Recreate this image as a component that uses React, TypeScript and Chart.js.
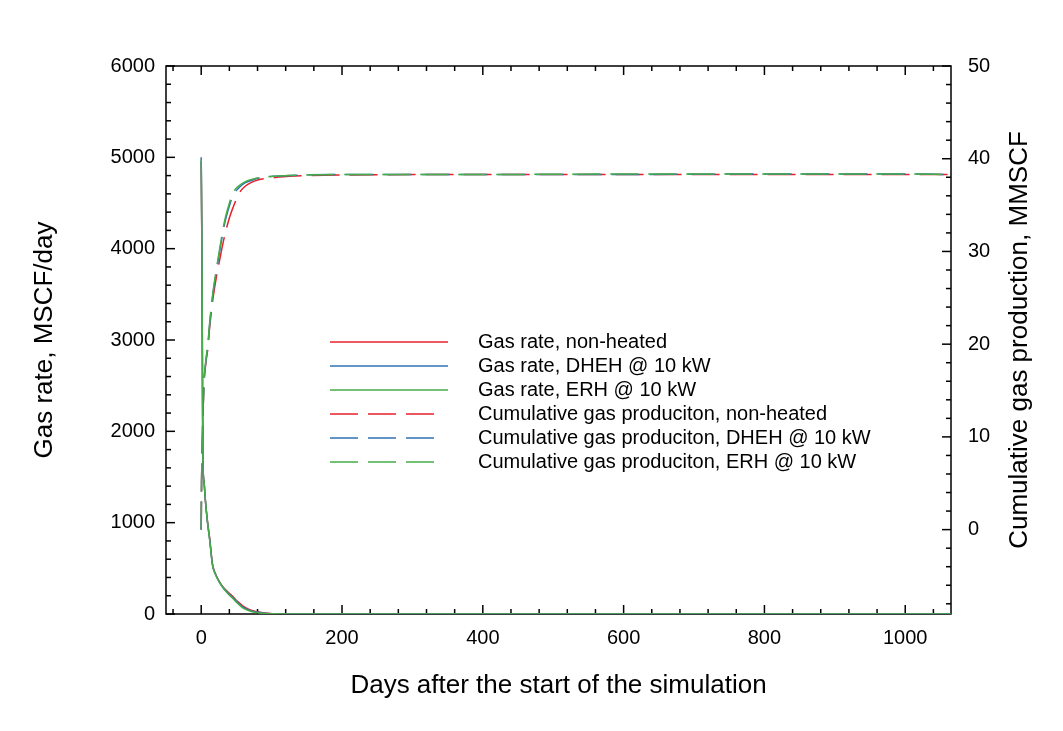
import React, { useEffect, useRef } from 'react';
import { Chart, registerables } from 'chart.js';

Chart.register(...registerables);

// ---------- data ----------
const rateDays = [0, 1, 2, 2.5, 4, 6, 9, 12, 16, 20, 25, 31, 38, 45, 52, 59, 68, 78, 90, 101, 115, 130, 200, 400, 600, 800, 1000, 1065];
const rateNonHeated = [4950, 4000, 2200, 1650, 1450, 1240, 1010, 830, 550, 445, 365, 295, 240, 190, 135, 90, 50, 27, 11, 4, 1, 0, 0, 0, 0, 0, 0, 0];
const rateDHEH = [5000, 4000, 2200, 1650, 1450, 1240, 1000, 820, 540, 440, 360, 290, 230, 180, 125, 78, 42, 21, 8, 3, 1, 0, 0, 0, 0, 0, 0, 0];
const rateERH = [4980, 4000, 2200, 1650, 1450, 1240, 1000, 815, 535, 438, 358, 288, 222, 170, 115, 68, 35, 16, 6, 2, 0.5, 0, 0, 0, 0, 0, 0, 0];

const cumDays = [0, 0.5, 1, 2, 3.7, 7, 9.4, 12, 16.5, 21, 26, 33, 40, 45, 54, 62, 73, 78, 90, 102, 125, 200, 400, 600, 800, 1000, 1065];
const cumNonHeated = [0, 5, 7.5, 11, 15.3, 18.2, 19.5, 21.8, 24.8, 27.0, 29.0, 31.6, 33.6, 34.7, 36.3, 37.0, 37.5, 37.65, 37.85, 37.95, 38.1, 38.25, 38.3, 38.3, 38.3, 38.3, 38.3];
const cumDHEH = [0, 5, 7.5, 11, 15.4, 18.4, 19.7, 22.1, 25.3, 27.6, 29.9, 32.9, 34.9, 36.0, 36.9, 37.4, 37.7, 37.85, 38.0, 38.1, 38.2, 38.3, 38.3, 38.3, 38.35, 38.35, 38.3];
const cumERH = [0, 5, 7.5, 11, 15.5, 18.5, 20.0, 22.3, 25.5, 27.8, 30.2, 33.2, 35.2, 36.3, 37.1, 37.5, 37.8, 37.9, 38.05, 38.1, 38.2, 38.3, 38.3, 38.35, 38.35, 38.35, 38.3];

const seriesLabels = [
  'Gas rate, non-heated',
  'Gas rate, DHEH @ 10 kW',
  'Gas rate, ERH @ 10 kW',
  'Cumulative gas produciton, non-heated',
  'Cumulative gas produciton, DHEH @ 10 kW',
  'Cumulative gas produciton, ERH @ 10 kW',
];

const xTickValues = [0, 200, 400, 600, 800, 1000];
const yTickValues = [0, 1000, 2000, 3000, 4000, 5000, 6000];
const y2TickValues = [0, 10, 20, 30, 40, 50];
const xMinorStep = 40;
const yMinorStep = 200;
const y2MinorStep = 2;

const xTitle = 'Days after the start of the simulation';
const yTitle = 'Gas rate, MSCF/day';
const y2Title = 'Cumulative gas production, MMSCF';

// ---------- styles ----------
const RED = '#e8212b';
const BLUE = '#2f72b6';
const GREEN = '#46ad48';
const FONT = '"Liberation Sans", Arial, sans-serif';
const DASH = [28, 10];

function minorValues(min: number, max: number, step: number) {
  const out: number[] = [];
  const start = Math.ceil(min / step) * step;
  for (let v = start; v <= max + 1e-9; v += step) out.push(Math.round(v * 1000) / 1000);
  return out;
}

const framePlugin = {
  id: 'frameTicks',
  beforeDatasetsDraw(chart: any) {
    const { ctx, chartArea, scales } = chart;
    const { left, right, top, bottom } = chartArea;
    const sx = scales.x, sy = scales.y, sy2 = scales.y2;
    ctx.save();
    ctx.strokeStyle = '#000';
    ctx.lineWidth = 1.5;
    const seg = (x1: number, y1: number, x2: number, y2: number) => {
      ctx.beginPath();
      ctx.moveTo(x1, y1);
      ctx.lineTo(x2, y2);
      ctx.stroke();
    };
    const MAJ = 9, MIN = 5;
    minorValues(sx.min, sx.max, xMinorStep).forEach((v) => {
      const p = sx.getPixelForValue(v);
      const len = xTickValues.includes(v) ? MAJ : MIN;
      seg(p, bottom, p, bottom - len);
      seg(p, top, p, top + len);
    });
    minorValues(sy.min, sy.max, yMinorStep).forEach((v) => {
      const p = sy.getPixelForValue(v);
      const len = yTickValues.includes(v) ? MAJ : MIN;
      seg(left, p, left + len, p);
    });
    minorValues(sy2.min, sy2.max, y2MinorStep).forEach((v) => {
      const p = sy2.getPixelForValue(v);
      const len = y2TickValues.includes(v) ? MAJ : MIN;
      seg(right, p, right - len, p);
    });
    ctx.strokeRect(left, top, right - left, bottom - top);
    ctx.restore();
  },
  afterDatasetsDraw(chart: any) {
    const { ctx } = chart;
    ctx.save();
    const x0 = 330;
    const textX = 478;
    const rowY0 = 342;
    const rowH = 24;
    chart.data.datasets.forEach((ds: any, i: number) => {
      const y = rowY0 + rowH * i;
      ctx.strokeStyle = ds.borderColor;
      ctx.lineWidth = 1.5;
      const dashed = Array.isArray(ds.borderDash) && ds.borderDash.length > 0;
      ctx.setLineDash(dashed ? ds.borderDash : []);
      ctx.beginPath();
      ctx.moveTo(x0, y);
      ctx.lineTo(dashed ? x0 + 107 : x0 + 118, y);
      ctx.stroke();
      ctx.setLineDash([]);
      ctx.fillStyle = '#000';
      ctx.font = `20px ${FONT}`;
      ctx.textAlign = 'left';
      ctx.textBaseline = 'middle';
      ctx.fillText(ds.label, textX, y);
    });
    const { chartArea } = chart;
    ctx.translate(1020, (chartArea.top + chartArea.bottom) / 2);
    ctx.rotate(-Math.PI / 2);
    ctx.fillStyle = '#000';
    ctx.font = `26px ${FONT}`;
    ctx.textAlign = 'center';
    ctx.textBaseline = 'middle';
    ctx.fillText(y2Title, 0, 0);
    ctx.restore();
  },
};

function pts(xs: number[], ys: number[]) {
  return xs.map((x, i) => ({ x, y: ys[i] }));
}

const plainLabel = (v: any) => String(v);

export default function App() {
  const ref = useRef<HTMLCanvasElement>(null);
  useEffect(() => {
    if (!ref.current) return;
    const common = {
      pointRadius: 0,
      borderWidth: 1.5,
      fill: false,
      cubicInterpolationMode: 'monotone' as const,
    };
    const chart = new Chart(ref.current, {
      type: 'line',
      data: {
        datasets: [
          { ...common, label: seriesLabels[0], data: pts(rateDays, rateNonHeated), borderColor: RED, yAxisID: 'y', order: 3 },
          { ...common, label: seriesLabels[1], data: pts(rateDays, rateDHEH), borderColor: BLUE, yAxisID: 'y', order: 2 },
          { ...common, label: seriesLabels[2], data: pts(rateDays, rateERH), borderColor: GREEN, yAxisID: 'y', order: 1 },
          { ...common, label: seriesLabels[3], data: pts(cumDays, cumNonHeated), borderColor: RED, borderDash: DASH, yAxisID: 'y2', order: 6 },
          { ...common, label: seriesLabels[4], data: pts(cumDays, cumDHEH), borderColor: BLUE, borderDash: DASH, yAxisID: 'y2', order: 5 },
          { ...common, label: seriesLabels[5], data: pts(cumDays, cumERH), borderColor: GREEN, borderDash: DASH, yAxisID: 'y2', order: 4 },
        ] as any,
      },
      options: {
        responsive: false,
        animation: false,
        devicePixelRatio: 1,
        events: [],
        layout: { padding: { top: 66, left: 0, right: 0, bottom: 0 } },
        plugins: { legend: { display: false }, tooltip: { enabled: false } },
        scales: {
          x: {
            type: 'linear',
            min: -50,
            max: 1065,
            grid: { display: false, drawTicks: false },
            border: { display: false },
            ticks: { color: '#000', font: { family: FONT, size: 20 }, padding: 12, maxRotation: 0, callback: plainLabel },
            title: { display: true, text: xTitle, color: '#000', font: { family: FONT, size: 26 }, padding: { top: 0, bottom: 30 } },
            afterBuildTicks: (s: any) => { s.ticks = xTickValues.map((v) => ({ value: v })); },
            afterFit: (s: any) => { s.height = 117; },
          },
          y: {
            type: 'linear',
            position: 'left',
            min: 0,
            max: 6000,
            grid: { display: false, drawTicks: false },
            border: { display: false },
            ticks: { color: '#000', font: { family: FONT, size: 20 }, padding: 11, callback: plainLabel },
            title: { display: true, text: yTitle, color: '#000', font: { family: FONT, size: 26 }, padding: { top: 29, bottom: 0 } },
            afterBuildTicks: (s: any) => { s.ticks = yTickValues.map((v) => ({ value: v })); },
            afterFit: (s: any) => { s.width = 166; },
          },
          y2: {
            type: 'linear',
            position: 'right',
            min: -9.1,
            max: 50,
            grid: { display: false, drawTicks: false },
            border: { display: false },
            ticks: { color: '#000', font: { family: FONT, size: 20 }, padding: 17, callback: plainLabel },
            afterBuildTicks: (s: any) => { s.ticks = y2TickValues.map((v) => ({ value: v })); },
            afterFit: (s: any) => { s.width = 112; },
          },
        },
      },
      plugins: [framePlugin],
    });
    return () => chart.destroy();
  }, []);

  return (
    <div style={{ position: 'fixed', left: 0, top: 0, width: 1063, height: 731, background: '#fff' }}>
      <canvas ref={ref} width={1063} height={731} style={{ display: 'block' }} />
    </div>
  );
}
